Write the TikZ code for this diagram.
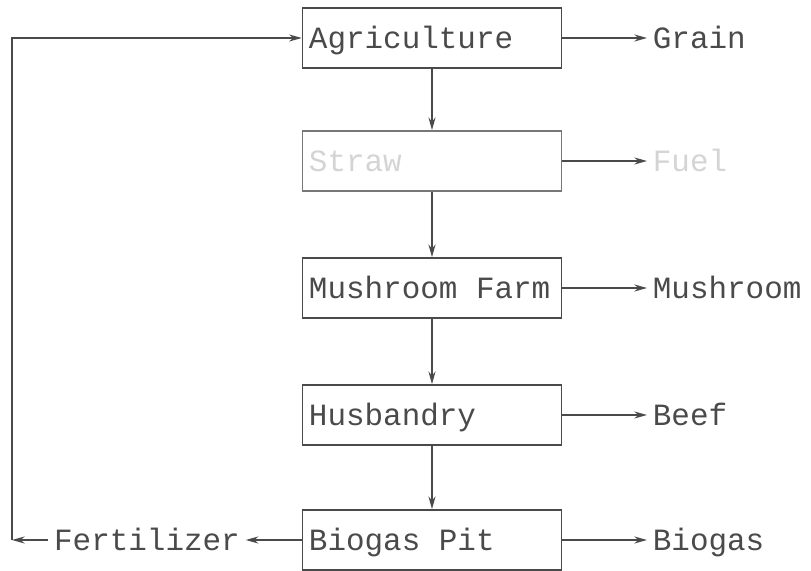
\documentclass[tikz,border=0pt]{standalone}
\usepackage{fontspec}
\newfontfamily\plotfont{Liberation Mono}
\newcommand\plotsize{\plotfont\fontsize{22}{24}\selectfont}
\usetikzlibrary{arrows.meta}
\definecolor{ink}{HTML}{4A4A4A}
\definecolor{faint}{HTML}{D4D4D4}
\tikzset{
	unit/.style={draw=ink, line width=1.2pt, text=ink, font=\plotsize,
		minimum height=1.5cm, text width=6.15cm, inner xsep=0.16cm, align=flush left,
		text height=17pt, text depth=2.5pt},
	product/.style={text=ink, font=\plotsize, anchor=west, inner sep=4pt,
		text height=17pt, text depth=2.5pt},
	flow/.style={draw=ink, line width=1.2pt, -{Stealth[length=9pt,width=5pt]}}
}

\begin{document}
\begin{tikzpicture}[x=0.025cm,y=-0.025cm]
		\useasboundingbox (0,0) rectangle (811,571);
		% the chain of units
		\node[unit] (agri) at (432,38){Agriculture};
		\node[unit, draw=ink!75, text=faint] (straw) at (432,161){Straw};
		\node[unit] (mush) at (432,288){Mushroom Farm};
		\node[unit] (husb) at (432,415){Husbandry};
		\node[unit] (pit) at (432,540){Biogas Pit};
		% products
		\node[product] (grain) at (647,38){Grain};
		\node[product, text=faint] (fuel) at (647,161){Fuel};
		\node[product] (mushroom) at (647,288){Mushroom};
		\node[product] (beef) at (647,415){Beef};
		\node[product] (biogas) at (647,540){Biogas};
		\node[product, anchor=center] (fert) at (147,540){Fertilizer};
		\coordinate (bend) at (12,540);
		\draw[flow] (agri) -- (straw);
		\draw[flow] (straw) -- (mush);
		\draw[flow] (mush) -- (husb);
		\draw[flow] (husb) -- (pit);
		\draw[flow] (agri) -- (grain);
		\draw[flow] (straw) -- (fuel);
		\draw[flow] (mush) -- (mushroom);
		\draw[flow] (husb) -- (beef);
		\draw[flow] (pit) -- (biogas);
		\draw[flow] (pit) -- (fert);
		\draw[flow] (fert) -- (bend);
		\draw[flow] (bend) |- (agri);
		\end{tikzpicture}
\end{document}
